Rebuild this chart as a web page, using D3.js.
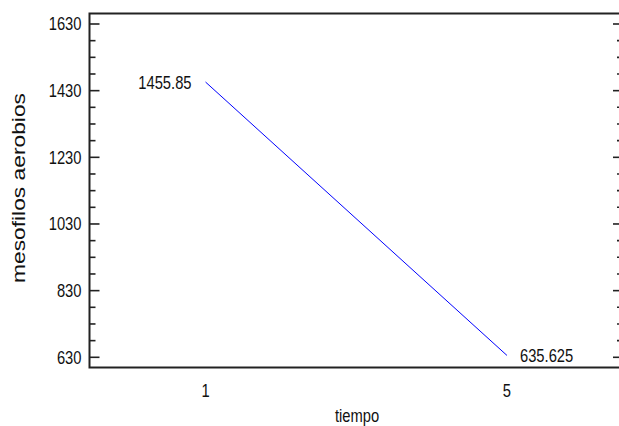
<!DOCTYPE html>
<html>
<head>
<meta charset="utf-8">
<script src="https://cdn.jsdelivr.net/npm/d3@7"></script>
<style>
  body { margin: 0; background: #fff; }
  svg { display: block; }
  .narrow { font-family: "Liberation Sans", Arial, sans-serif; }
</style>
</head>
<body>
<div id="chart"></div>
<script>
const tiempo = [1, 5]
const mesofilos = [1455.85, 635.625]
const valueLabels = ["1455.85", "635.625"]
const yTicks = [630, 830, 1030, 1230, 1430, 1630]
const yMinorTicks = d3.range(630, 1631, 50)

const width = 619
const height = 426
const frame = { left: 89.5, right: 623, top: 13.5, bottom: 367.5 }
const squeeze = 0.82 // no Arial Narrow here, so compress Liberation Sans

const svg = d3.select("#chart")
  .append("svg")
    .attr("width", width)
    .attr("height", height)

const xScale = d3.scaleLinear()
  .domain([-0.54, 6.54])
  .range([frame.left, frame.right])
const yScale = d3.scaleLinear()
  .domain([599.4, 1661.5])
  .range([frame.bottom, frame.top])

const at = (x, y) => `translate(${x},${y}) scale(${squeeze},1)`

// inward ticks on left and right
const ticks = svg.append("g")
  .attr("stroke", "#222")
  .attr("stroke-width", 1.6)
ticks.selectAll(".tl")
  .data(yMinorTicks)
  .join("line")
    .attr("x1", frame.left)
    .attr("x2", d => frame.left + (yTicks.includes(d) ? 10 : 6))
    .attr("y1", d => yScale(d))
    .attr("y2", d => yScale(d))
ticks.selectAll(".tr")
  .data(yMinorTicks)
  .join("line")
    .attr("x1", frame.right)
    .attr("x2", d => frame.right - (yTicks.includes(d) ? 10 : 6))
    .attr("y1", d => yScale(d))
    .attr("y2", d => yScale(d))

// frame
svg.append("rect")
  .attr("x", frame.left)
  .attr("y", frame.top)
  .attr("width", frame.right - frame.left)
  .attr("height", frame.bottom - frame.top)
  .attr("fill", "none")
  .attr("stroke", "#222")
  .attr("stroke-width", 2)

// y tick labels
svg.append("g")
  .attr("class", "narrow")
  .attr("font-size", 18)
  .attr("fill", "#111")
  .selectAll("text")
  .data(yTicks)
  .join("text")
    .attr("transform", d => at(frame.left - 8, yScale(d)))
    .attr("dy", "0.36em")
    .attr("text-anchor", "end")
    .text(d => d)

// x tick labels
svg.append("g")
  .attr("class", "narrow")
  .attr("font-size", 18)
  .attr("fill", "#111")
  .selectAll("text")
  .data(tiempo)
  .join("text")
    .attr("transform", d => at(xScale(d), 397))
    .attr("text-anchor", "middle")
    .text(d => d)

// line
const points = tiempo.map((t, i) => ({ t, v: mesofilos[i], label: valueLabels[i] }))
svg.append("path")
  .datum(points)
  .attr("fill", "none")
  .attr("stroke", "#0000ff")
  .attr("stroke-width", 1)
  .attr("d", d3.line()
    .x(d => xScale(d.t))
    .y(d => yScale(d.v)))

// value labels
svg.append("g")
  .attr("class", "narrow")
  .attr("font-size", 18)
  .attr("fill", "#111")
  .selectAll("text")
  .data(points)
  .join("text")
    .attr("transform", (d, i) => at(xScale(d.t) + (i === 0 ? -14 : 13), yScale(d.v)))
    .attr("dy", "0.36em")
    .attr("text-anchor", (d, i) => i === 0 ? "end" : "start")
    .text(d => d.label)

// axis titles
svg.append("text")
  .attr("class", "narrow")
  .attr("font-size", 18)
  .attr("fill", "#111")
  .attr("transform", at(357, 422))
  .attr("text-anchor", "middle")
  .text("tiempo")

svg.append("text")
  .attr("font-family", "'Liberation Sans', Arial, sans-serif")
  .attr("font-size", 19)
  .attr("fill", "#111")
  .attr("transform", "translate(25,188) rotate(-90)")
  .attr("text-anchor", "middle")
  .attr("textLength", 190)
  .attr("lengthAdjust", "spacingAndGlyphs")
  .text("mesofilos aerobios")
</script>
</body>
</html>
